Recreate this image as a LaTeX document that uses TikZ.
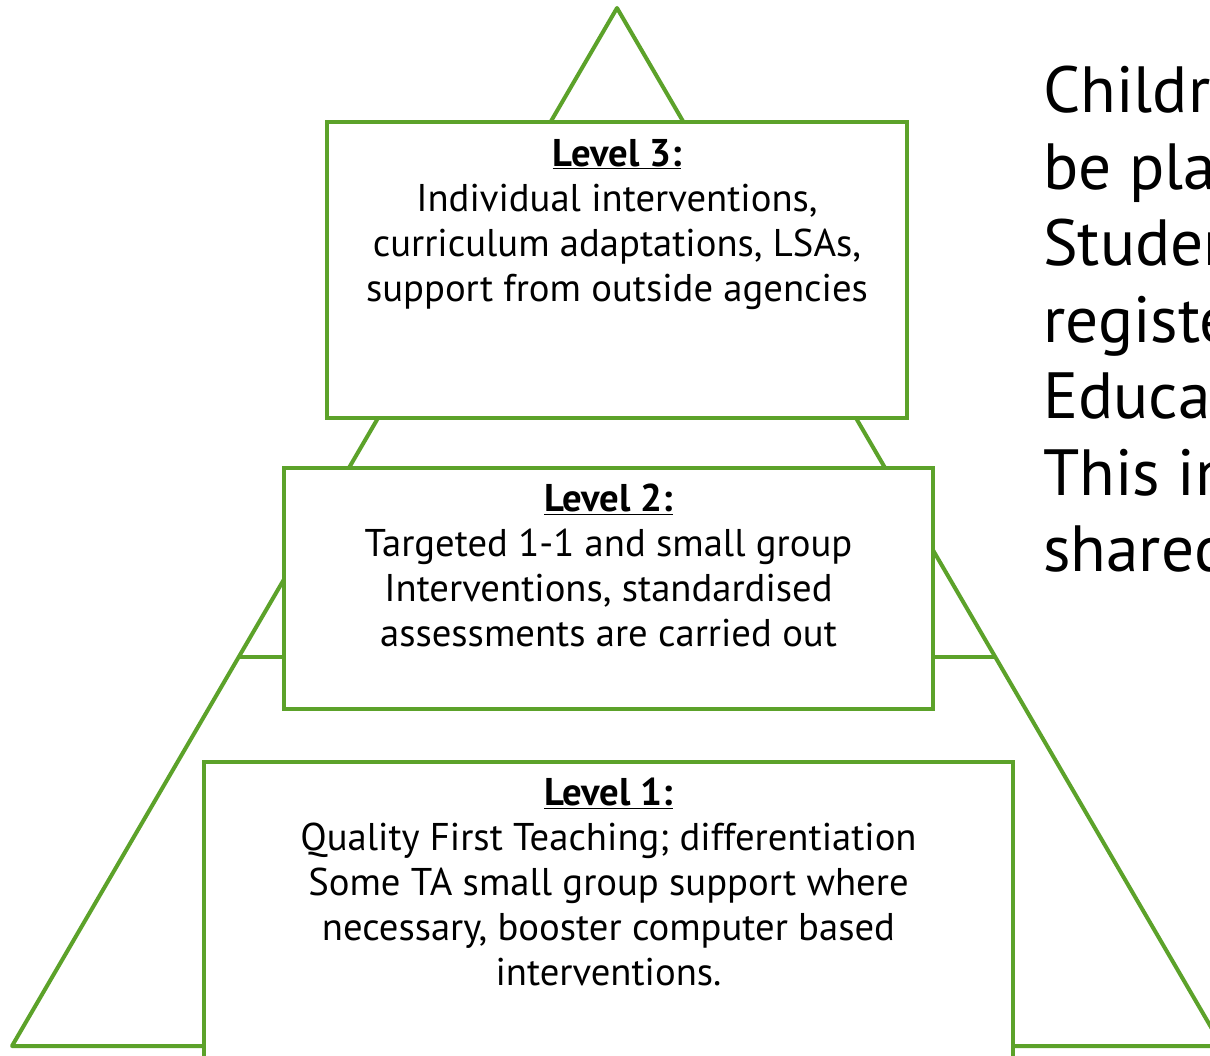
\documentclass[tikz,border=0pt]{standalone}
\usepackage{fontspec}
\setmainfont{PT Sans}
\definecolor{pgreen}{RGB}{92,162,42}
\begin{document}
\begin{tikzpicture}[x=0.75pt,y=-0.75pt,
  pline/.style={draw=pgreen, line width=3pt, line join=round},
  levelbox/.style={draw=pgreen, fill=white, line width=3pt, rectangle, inner sep=0pt},
  lvltext/.style={align=center, inner sep=0pt, anchor=north, font=\fontsize{29}{33.75}\selectfont},
  sidetext/.style={align=left, inner sep=0pt, anchor=north west, font=\fontsize{49}{57.4}\selectfont}]
\useasboundingbox (0,0) rectangle (1210,1056);
\clip (0,0) rectangle (1210,1056);
\fill[white] (0,0) rectangle (1210,1056);
\coordinate (apex) at (617,8);
\coordinate (bl) at (12,1046);
\coordinate (br) at (1222,1046);
\coordinate (ml) at (240,657);
\coordinate (mr) at (995,657);
\draw[pline] (apex) -- (bl) -- (br) -- cycle;
\draw[pline] (ml) -- (mr);
\node[levelbox, minimum width=435pt, minimum height=222pt] (b3) at (617,270) {};
\node[levelbox, minimum width=486.75pt, minimum height=180.75pt] (b2) at (608.5,588.5) {};
\node[levelbox, minimum width=606.75pt, minimum height=231pt] (b1) at (608.5,916) {};
\node[lvltext] (t3) at (617,139) {\underline{\textbf{Level 3:}}\\Individual interventions,\\curriculum adaptations, LSAs,\\support from outside agencies};
\node[lvltext] (t2) at (608.5,484) {\underline{\textbf{Level 2:}}\\Targeted 1-1 and small group\\Interventions, standardised\\assessments are carried out};
\node[lvltext] (t1) at (608.5,778) {\underline{\textbf{Level 1:}}\\Quality First Teaching; differentiation\\Some TA small group support where\\necessary, booster computer based\\interventions.};
\node[sidetext] (side) at (1043,66) {Childr\\be pla\\Studen\\registe\\Educa\\This in\\shared};
\end{tikzpicture}
\end{document}
